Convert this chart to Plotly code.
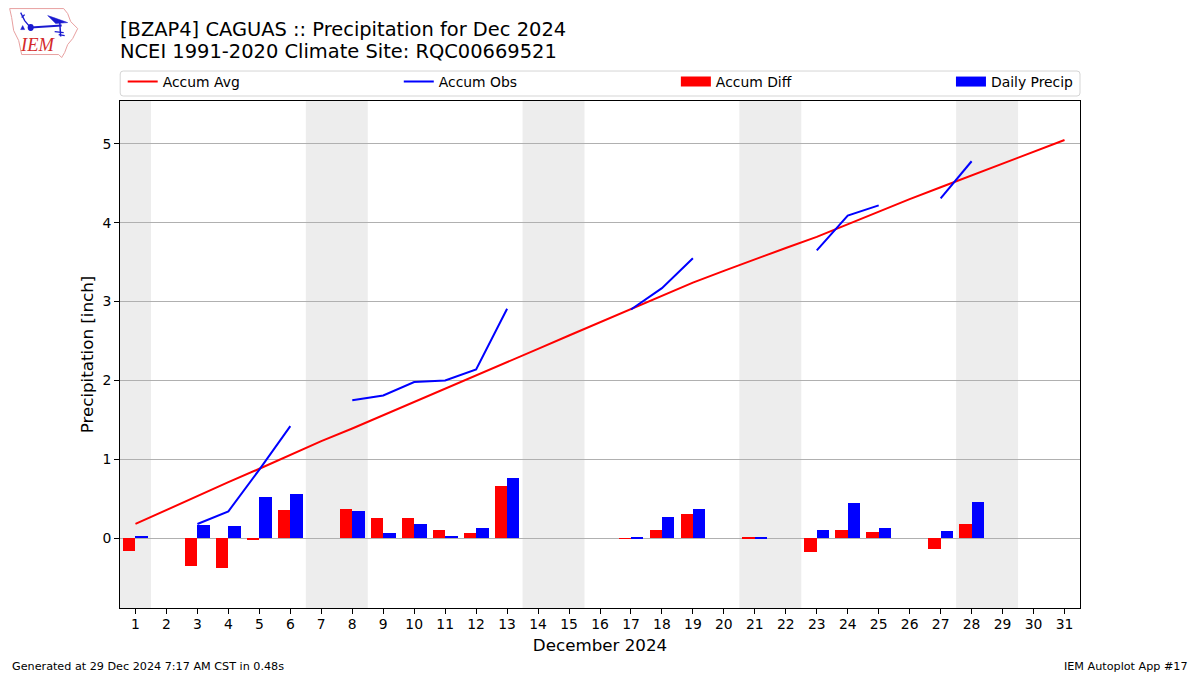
import plotly.graph_objects as go

days = list(range(1, 32))
tick_labels = [str(d) for d in days]
accum_avg = [0.18, 0.36, 0.53, 0.71, 0.88, 1.06, 1.23, 1.39, 1.56, 1.73, 1.90, 2.07, 2.23, 2.40, 2.57,
             2.74, 2.90, 3.07, 3.24, 3.39, 3.54, 3.68, 3.82, 3.98, 4.15, 4.30, 4.45, 4.60, 4.75, 4.90, 5.05]
accum_obs = [None, None, 0.18, 0.34, 0.87, 1.42, None, 1.75, 1.81, 1.98, 2.00, 2.14, 2.91, None, None,
             None, 2.90, 3.17, 3.55, None, None, None, 3.65, 4.09, 4.22, None, 4.31, 4.78, None, None, None]
accum_diff = [-0.16, 0, -0.35, -0.38, -0.02, 0.355, 0, 0.37, 0.25, 0.25, 0.105, 0.067, 0.66, 0, 0,
              0, -0.01, 0.105, 0.31, 0, 0.01, 0, -0.175, 0.105, 0.08, 0, -0.14, 0.18, 0, 0, 0]
daily_precip = [0.03, 0, 0.165, 0.15, 0.52, 0.56, 0, 0.34, 0.06, 0.18, 0.03, 0.13, 0.76, 0, 0,
                0, 0.015, 0.27, 0.37, 0, 0.01, 0, 0.105, 0.44, 0.13, 0, 0.09, 0.46, 0, 0, 0]
weekend_spans = [(0.5, 1.5), (6.5, 8.5), (13.5, 15.5), (20.5, 22.5), (27.5, 29.5)]

FONT = "DejaVu Sans"
W, H = 1200, 675
L, R, T, B = 120.3, 1080, 100.5, 608


def px(x):
    return (x - L) / (R - L)


def py(y):
    return (B - y) / (B - T)


def path(points, close=False):
    s = "M" + " L".join(f"{px(x):.5f},{py(y):.5f}" for x, y in points)
    return s + (" Z" if close else "")


fig = go.Figure()
fig.add_bar(x=days, y=accum_diff, width=0.4, offset=-0.4, marker=dict(color="#ff0000", line_width=0),
            name="Accum Diff", showlegend=False)
fig.add_bar(x=days, y=daily_precip, width=0.4, offset=0, marker=dict(color="#0000ff", line_width=0),
            name="Daily Precip", showlegend=False)
fig.add_scatter(x=days, y=accum_avg, mode="lines", line=dict(color="#ff0000", width=2), name="Accum Avg",
                legend="legend")
fig.add_scatter(x=days, y=accum_obs, mode="lines", line=dict(color="#0000ff", width=2), name="Accum Obs",
                connectgaps=False, legend="legend2")
fig.add_scatter(x=[None], y=[None], mode="lines", line=dict(color="#ff0000", width=10), name="Accum Diff",
                legend="legend3")
fig.add_scatter(x=[None], y=[None], mode="lines", line=dict(color="#0000ff", width=10), name="Daily Precip",
                legend="legend4")

shapes = [dict(type="rect", xref="x", yref="paper", x0=a, x1=b, y0=0, y1=1, layer="below",
               fillcolor="#ededed", line_width=0) for a, b in weekend_spans]

# rounded legend frame
r = 3
lx0, lx1, ly0, ly1 = 120.5, 1080, 70.5, 95.5
shapes.append(dict(type="path", xref="paper", yref="paper", line=dict(color="#d5d5d5", width=1), fillcolor="white",
                   path=f"M{px(lx0+r):.5f},{py(ly0):.5f} L{px(lx1-r):.5f},{py(ly0):.5f} "
                        f"Q{px(lx1):.5f},{py(ly0):.5f} {px(lx1):.5f},{py(ly0+r):.5f} "
                        f"L{px(lx1):.5f},{py(ly1-r):.5f} Q{px(lx1):.5f},{py(ly1):.5f} {px(lx1-r):.5f},{py(ly1):.5f} "
                        f"L{px(lx0+r):.5f},{py(ly1):.5f} Q{px(lx0):.5f},{py(ly1):.5f} {px(lx0):.5f},{py(ly1-r):.5f} "
                        f"L{px(lx0):.5f},{py(ly0+r):.5f} Q{px(lx0):.5f},{py(ly0):.5f} {px(lx0+r):.5f},{py(ly0):.5f} Z"))

# IEM logo
iowa = [(10, 8), (64, 8), (68, 13), (71, 21), (78, 28), (73, 38), (68, 44), (65, 52), (62, 57), (59, 54), (22, 54),
        (19, 40), (14, 30), (12, 17)]
shapes.append(dict(type="path", xref="paper", yref="paper", path=path(iowa, True),
                   line=dict(color="#e8a0a0", width=1), fillcolor="white"))
blue = "#1a1ad0"
for seg, w in [([(21, 12), (25, 20), (30, 26)], 1.3), ([(22, 17), (25, 14)], 1.3),
               ([(31, 27), (62, 25)], 2), ([(60, 20), (61, 36)], 1.5), ([(55, 31), (64, 32)], 1.3),
               ([(59, 34), (65, 35)], 1.3)]:
    shapes.append(dict(type="path", xref="paper", yref="paper", path=path(seg), line=dict(color=blue, width=w)))
shapes.append(dict(type="path", xref="paper", yref="paper", path=path([(48, 15), (54, 17), (68, 22), (56, 23)], True),
                   line=dict(color=blue, width=0.5), fillcolor=blue))
shapes.append(dict(type="circle", xref="paper", yref="paper", x0=px(28), x1=px(34), y0=py(30.5), y1=py(23.5),
                   line_width=0, fillcolor=blue))
shapes.append(dict(type="path", xref="paper", yref="paper", path=path([(23, 25), (25, 29), (21, 29)], True),
                   line=dict(color=blue, width=0.5), fillcolor=blue))


def note(text, x, y, size, anchor="left", font=FONT, color="black", **kw):
    return dict(text=text, xref="paper", yref="paper", x=px(x), y=py(y), xanchor=anchor, yanchor="middle",
                showarrow=False, font=dict(family=font, size=size, color=color), align="left", **kw)


annotations = [
    note("NCEI 1991-2020 Climate Site: RQC00669521", 118, 51, 19.45),
    note("Generated at 29 Dec 2024 7:17 AM CST in 0.48s", 10, 666.7, 11.2),
    note("IEM Autoplot App #17", 1190, 666.7, 11.2, anchor="right"),
    note("<i>IEM</i>", 18, 44.5, 18.5, font="Liberation Serif", color="#d42a2a"),
]


def legend_at(text_x):
    return dict(orientation="h", x=px(text_x - 41), y=py(81.5), xanchor="left", yanchor="middle",
                bgcolor="rgba(0,0,0,0)", borderwidth=0, itemwidth=30, font=dict(size=13.9),
                itemclick=False, itemdoubleclick=False)


fig.update_layout(
    width=W, height=H, autosize=False,
    margin=dict(l=L, r=W - R, t=T, b=H - B, pad=0),
    paper_bgcolor="white", plot_bgcolor="white",
    font=dict(family=FONT, size=13.9, color="black"),
    barmode="overlay", bargap=0,
    title=dict(text="[BZAP4] CAGUAS :: Precipitation for Dec 2024", x=120 / W, xref="container", xanchor="left",
               y=1 - 29 / H, yref="container", yanchor="middle", font=dict(size=19.45, family=FONT, color="black"), pad=dict(l=0, r=0, t=0, b=0)),
    xaxis=dict(range=[0.5, 31.5], tickmode="array", tickvals=days, ticktext=tick_labels, ticks="outside", ticklen=5,
               tickwidth=1, tickcolor="black", showgrid=False, zeroline=False, showline=True, linecolor="black",
               linewidth=1, mirror=True, title=dict(text="December 2024", font=dict(size=16.7), standoff=8),
               tickfont=dict(size=13.9), ticklabelstandoff=-2),
    yaxis=dict(range=[-0.886, 5.544], tickmode="array", tickvals=[0, 1, 2, 3, 4, 5], ticktext=["0", "1", "2", "3", "4", "5"],
               ticks="outside", ticklen=5, tickwidth=1, tickcolor="black", showgrid=True, gridcolor="#b0b0b0", gridwidth=1,
               zeroline=False, showline=True, linecolor="black", linewidth=1, mirror=True,
               title=dict(text="Precipitation [inch]", font=dict(size=16.7), standoff=4), tickfont=dict(size=13.9)),
    legend=legend_at(164), legend2=legend_at(440), legend3=legend_at(717), legend4=legend_at(992),
    shapes=shapes, annotations=annotations,
)

fig.write_html("out.html", config={"displayModeBar": False}, post_script="document.body.style.margin='0';")
